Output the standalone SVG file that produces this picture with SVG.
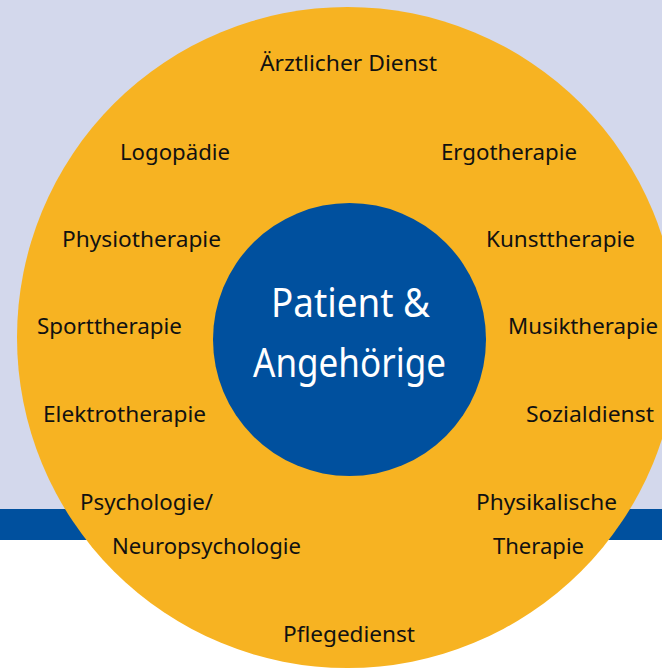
<svg xmlns="http://www.w3.org/2000/svg" width="662" height="670" viewBox="0 0 662 670">
<style>
.lbl{font-family:"Noto Sans","Open Sans","DejaVu Sans",sans-serif;font-size:22.5px;fill:#111111;text-anchor:middle}
.ctr{font-family:"Noto Sans","Open Sans","DejaVu Sans",sans-serif;font-size:40px;fill:#ffffff;text-anchor:middle}
</style>
<g id="background">
<rect x="0" y="0" width="662" height="670" fill="#ffffff"/>
<rect x="0" y="0" width="662" height="509" fill="#d3d8ec"/>
<rect x="0" y="509" width="662" height="31" fill="#00509e"/>
</g>
<g id="outer-ring">
<circle cx="347.5" cy="337.5" r="330.5" fill="#f7b322"/>
</g>
<g id="connectors"></g>
<g id="center">
<circle cx="349.5" cy="339.5" r="136.5" fill="#00509e"/>
<text class="ctr" x="350.5" y="317" textLength="159" lengthAdjust="spacingAndGlyphs">Patient &amp;</text>
<text class="ctr" x="349.5" y="377" textLength="193" lengthAdjust="spacingAndGlyphs">Angehörige</text>
</g>
<g id="n-aerztlicher-dienst"><text class="lbl" x="348.5" y="71" textLength="177" lengthAdjust="spacingAndGlyphs">Ärztlicher Dienst</text></g>
<g id="n-logopaedie"><text class="lbl" x="175" y="160" textLength="110" lengthAdjust="spacingAndGlyphs">Logopädie</text></g>
<g id="n-ergotherapie"><text class="lbl" x="509" y="160" textLength="136" lengthAdjust="spacingAndGlyphs">Ergotherapie</text></g>
<g id="n-physiotherapie"><text class="lbl" x="141.5" y="247" textLength="159" lengthAdjust="spacingAndGlyphs">Physiotherapie</text></g>
<g id="n-kunsttherapie"><text class="lbl" x="560.5" y="247" textLength="149" lengthAdjust="spacingAndGlyphs">Kunsttherapie</text></g>
<g id="n-sporttherapie"><text class="lbl" x="109.5" y="334" textLength="145" lengthAdjust="spacingAndGlyphs">Sporttherapie</text></g>
<g id="n-musiktherapie"><text class="lbl" x="583" y="334" textLength="150" lengthAdjust="spacingAndGlyphs">Musiktherapie</text></g>
<g id="n-elektrotherapie"><text class="lbl" x="124.5" y="422" textLength="163" lengthAdjust="spacingAndGlyphs">Elektrotherapie</text></g>
<g id="n-sozialdienst"><text class="lbl" x="590" y="422" textLength="128" lengthAdjust="spacingAndGlyphs">Sozialdienst</text></g>
<g id="n-psychologie">
<text class="lbl" x="146.5" y="510" textLength="133" lengthAdjust="spacingAndGlyphs">Psychologie/</text>
<text class="lbl" x="206.5" y="554" textLength="189" lengthAdjust="spacingAndGlyphs">Neuropsychologie</text>
</g>
<g id="n-physikalische-therapie">
<text class="lbl" x="546.5" y="510" textLength="141" lengthAdjust="spacingAndGlyphs">Physikalische</text>
<text class="lbl" x="538.5" y="554" textLength="91" lengthAdjust="spacingAndGlyphs">Therapie</text>
</g>
<g id="n-pflegedienst"><text class="lbl" x="349" y="642" textLength="132" lengthAdjust="spacingAndGlyphs">Pflegedienst</text></g>
</svg>
